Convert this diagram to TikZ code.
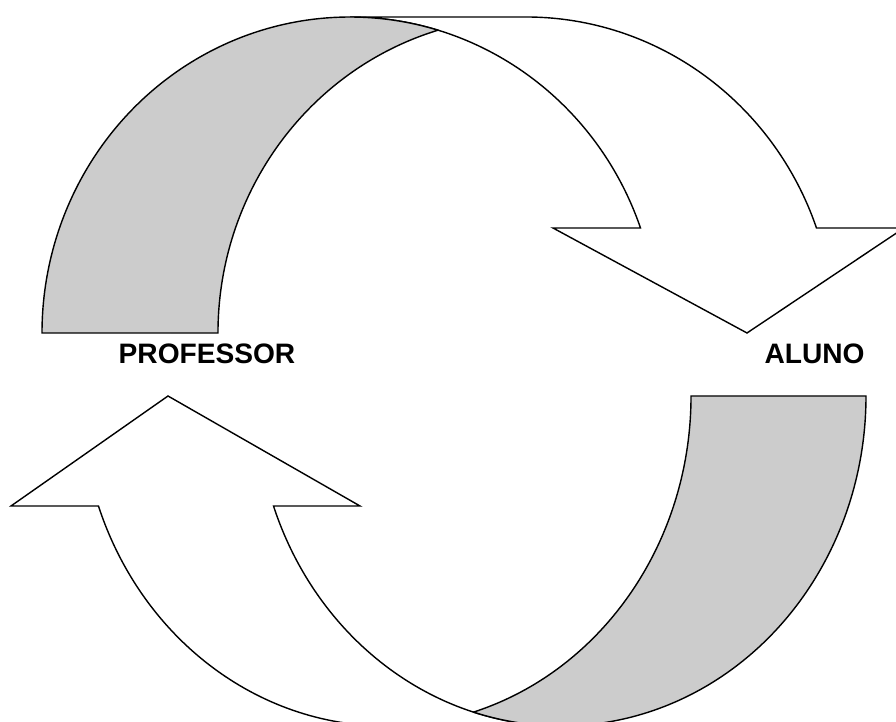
\documentclass[tikz,border=0pt]{standalone}
\usepackage{fontspec}
\setmainfont{Liberation Sans}
\definecolor{backgray}{HTML}{CCCCCC}

\begin{document}
\begin{tikzpicture}[x=0.025cm,y=0.025cm,line width=1pt,line join=miter,
  frontface/.style={draw=black,fill=white},
  backface/.style={draw=black,fill=backgray},
  upperell/.style={x radius=308,y radius=316},
  lowerell/.style={x radius=305,y radius=330},
  rolename/.style={font=\bfseries\fontsize{20}{22}\selectfont}]
  \useasboundingbox (0,0) rectangle (896,722);
  % upper arrow, front
  \draw[frontface] (747,389) -- (553,494) -- (640.5,494)
    arc[upperell,start angle=19.41,end angle=90] -- (526,705)
    arc[upperell,start angle=90,end angle=19.41] -- (904,494) -- cycle;
  % upper arrow, back (shaded)
  \draw[backface] (438,691.8) arc[upperell,start angle=106.6,end angle=180]
    -- (42,389) arc[upperell,start angle=180,end angle=73.4] -- cycle;
  % lower arrow, front
  \draw[frontface] (168,326) -- (360,216) -- (273.5,216)
    arc[lowerell,start angle=199.47,end angle=270] -- (386,-4)
    arc[lowerell,start angle=270,end angle=199.47] -- (11,216) -- cycle;
  % lower arrow, back (shaded)
  \draw[backface] (473.5,9.9) arc[lowerell,start angle=286.67,end angle=360]
    -- (866,326) arc[lowerell,start angle=0,end angle=-106.67] -- cycle;
  % labels
  \node[rolename] (prof) at (207,368) {PROFESSOR};
  \node[rolename] (aluno) at (814.5,368) {ALUNO};
\end{tikzpicture}
\end{document}
